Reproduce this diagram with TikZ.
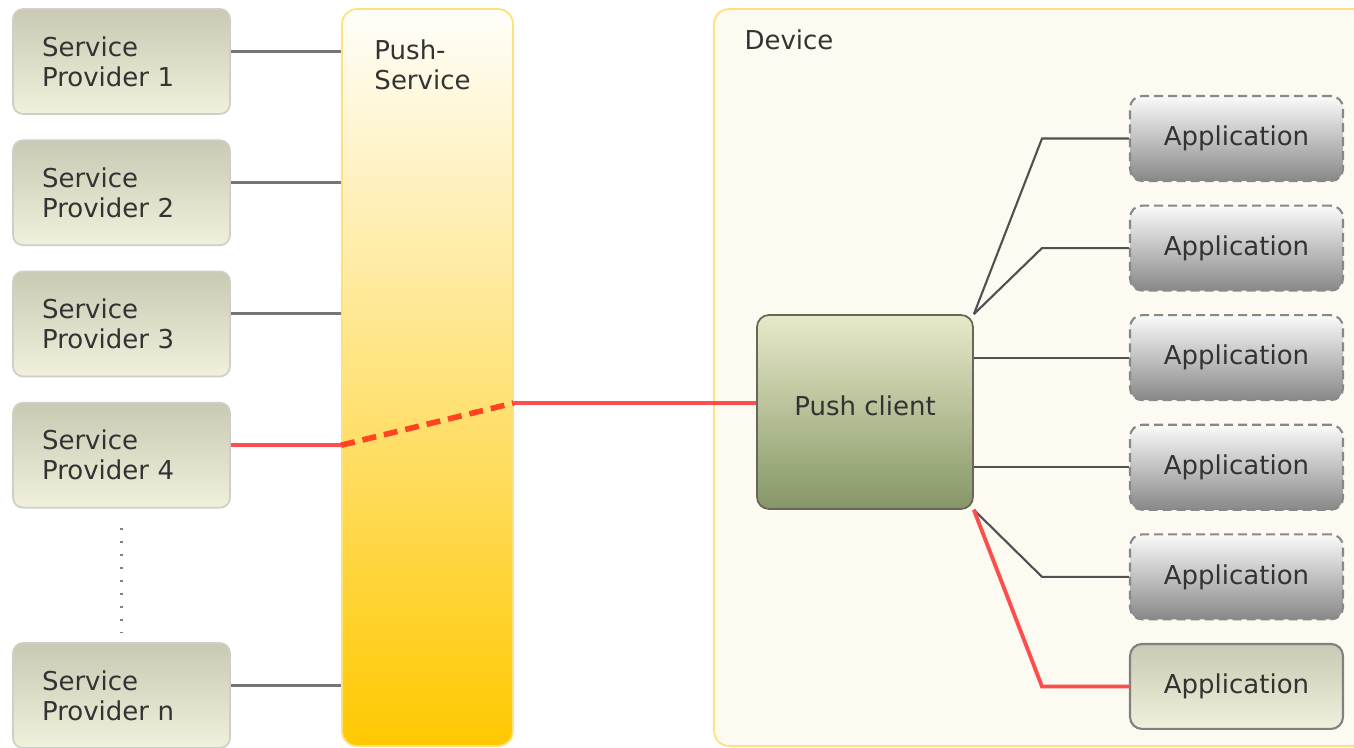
\documentclass[tikz,border=0pt]{standalone}
\usepackage{fontspec}
\setmainfont{DejaVu Sans}
\usetikzlibrary{positioning,calc}

\definecolor{txt}{HTML}{333333}
\definecolor{spTop}{HTML}{CAC9B3}
\definecolor{spBottom}{HTML}{F0F0DC}
\definecolor{spBorder}{HTML}{CFCFC8}
\definecolor{psTop}{HTML}{FFFEFA}
\definecolor{psBottom}{HTML}{FFC800}
\definecolor{psBorder}{HTML}{FFE07A}
\definecolor{devFill}{HTML}{FDFBF1}
\definecolor{pcTop}{HTML}{E9E9C9}
\definecolor{pcBottom}{HTML}{849766}
\definecolor{pcBorder}{HTML}{66665A}
\definecolor{appTop}{HTML}{FAFAFA}
\definecolor{appBottom}{HTML}{888888}
\definecolor{linkGray}{HTML}{757575}
\definecolor{linkDark}{HTML}{505050}
\definecolor{pushRed}{HTML}{FF4D4D}
\definecolor{dashRed}{HTML}{FF4422}

\begin{document}
\begin{tikzpicture}[x=0.02cm,y=-0.02cm,
	font=\fontsize{14.8}{17}\selectfont,
	provider/.style={rectangle, rounded corners=0.2cm, draw=spBorder, line width=1pt, top color=spTop, bottom color=spBottom, text=txt, align=left, text width=3.18cm, inner xsep=0.58cm, minimum width=4.34cm, minimum height=2.1cm},
	pushsrv/.style={rectangle, rounded corners=0.3cm, draw=psBorder, line width=1pt, top color=psTop, bottom color=psBottom, minimum width=3.42cm, minimum height=14.74cm},
	device/.style={rectangle, rounded corners=0.3cm, draw=psBorder, line width=1pt, fill=devFill, minimum width=13.32cm, minimum height=14.74cm},
	client/.style={rectangle, rounded corners=0.24cm, draw=pcBorder, line width=1pt, top color=pcTop, bottom color=pcBottom, text=txt, text depth=0.26cm, minimum width=4.32cm, minimum height=3.88cm},
	app/.style={rectangle, rounded corners=0.24cm, draw=appBottom, line width=1.2pt, dash pattern=on 0.18cm off 0.1cm, top color=appTop, bottom color=appBottom, text=txt, minimum width=4.26cm, minimum height=1.7cm},
	appsel/.style={rectangle, rounded corners=0.24cm, draw=gray, line width=1.2pt, top color=spTop, bottom color=spBottom, text=txt, minimum width=4.26cm, minimum height=1.7cm},
	caption/.style={text=txt, align=left, inner sep=0pt},
	srvlink/.style={draw=linkGray, line width=1.7pt},
	applink/.style={draw=linkDark, line width=1.2pt},
	redlink/.style={draw=pushRed, line width=2.2pt},
	reddash/.style={draw=dashRed, line width=3.2pt, dash pattern=on 0.28cm off 0.16cm}
	]
\clip (0,0) rectangle (1354,747);

% containers
\node [pushsrv] (ps)  at (427.5,377.5) {};
\node [caption] (pslabel) [below right=0.62cm and 0.66cm of ps.north west] {Push-\\Service};
\node [device]  (dev) at (1047,377.5) {};
\node [caption] (devlabel) [below right=0.42cm and 0.62cm of dev.north west] {Device};

% service providers
\node [provider] (sp1) at (121.5,61.5) {Service\\Provider 1};
\node [provider] (sp2) [below=0.49cm of sp1] {Service\\Provider 2};
\node [provider] (sp3) [below=0.49cm of sp2] {Service\\Provider 3};
\node [provider] (sp4) [below=0.49cm of sp3] {Service\\Provider 4};
\node [provider] (spn) at (121.5,695.5) {Service\\Provider n};

% device side
\node [client] (pc) at (865,412) {Push client};
\node [app]    (a1) at (1236.5,138.5) {Application};
\node [app]    (a2) [below=0.45cm of a1] {Application};
\node [app]    (a3) [below=0.45cm of a2] {Application};
\node [app]    (a4) [below=0.45cm of a3] {Application};
\node [app]    (a5) [below=0.45cm of a4] {Application};
\node [appsel] (a6) [below=0.45cm of a5] {Application};

% provider links
\draw [srvlink] ([yshift=0.2cm]sp1.east) -- ([yshift=0.2cm]sp1.east -| ps.west);
\draw [srvlink] ([yshift=0.2cm]sp2.east) -- ([yshift=0.2cm]sp2.east -| ps.west);
\draw [srvlink] ([yshift=0.2cm]sp3.east) -- ([yshift=0.2cm]sp3.east -| ps.west);
\draw [srvlink] ([yshift=0.2cm]spn.east) -- ([yshift=0.2cm]spn.east -| ps.west);
\draw [gray, line width=1.6pt, dash pattern=on 1.2pt off 6.2pt] ([yshift=-0.38cm]sp4.south) -- ([yshift=0.18cm]spn.north);

% push path
\draw [redlink] ([yshift=0.2cm]sp4.east) -- ([yshift=0.2cm]sp4.east -| ps.west);
\draw [reddash] ([yshift=0.2cm]sp4.east -| ps.west) -- ([yshift=0.18cm]pc.west -| ps.east);
\draw [redlink] ([yshift=0.18cm]pc.west -| ps.east) -- ([yshift=0.18cm]pc.west);

% application links
\draw [applink] (pc.north east) -- ([xshift=-1.74cm]a1.west) -- (a1.west);
\draw [applink] (pc.north east) -- ([xshift=-1.74cm]a2.west) -- (a2.west);
\draw [applink] (pc.east |- a3.west) -- (a3.west);
\draw [applink] (pc.east |- a4.west) -- (a4.west);
\draw [applink] (pc.south east) -- ([xshift=-1.74cm]a5.west) -- (a5.west);
\draw [redlink] (pc.south east) -- ([xshift=-1.74cm]a6.west) -- (a6.west);
\end{tikzpicture}
\end{document}
